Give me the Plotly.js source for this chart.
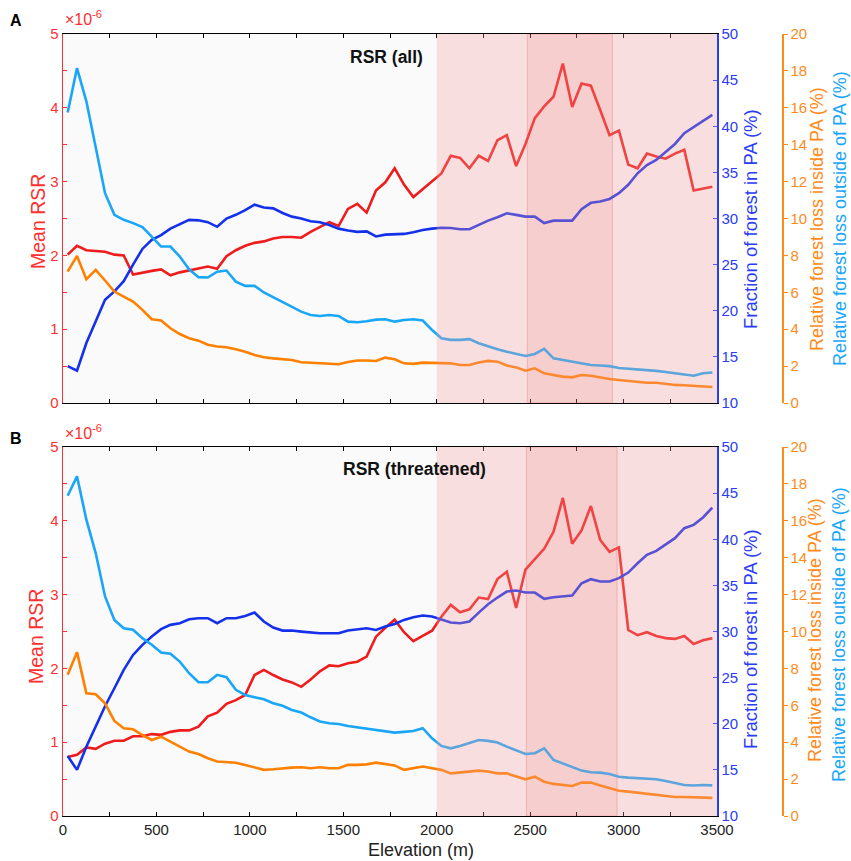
<!DOCTYPE html>
<html>
<head>
<meta charset="utf-8">
<script src="https://cdn.plot.ly/plotly-3.0.1.min.js"></script>
<style>html,body{margin:0;padding:0;background:#fff;}#chart{width:851px;height:861px;}</style>
</head>
<body>
<div id="chart"></div>
<script>
// Elevation bin centres (m)
const elevation = [25,75,125,175,225,275,325,375,425,475,525,575,625,675,725,775,825,875,925,975,
1025,1075,1125,1175,1225,1275,1325,1375,1425,1475,1525,1575,1625,1675,1725,1775,1825,1875,1925,1975,
2025,2075,2125,2175,2225,2275,2325,2375,2425,2475,2525,2575,2625,2675,2725,2775,2825,2875,2925,2975,
3025,3075,3125,3175,3225,3275,3325,3375,3425,3475];

// Panel A: RSR (all)
const rsrAll = [2.01,2.13,2.07,2.06,2.05,2.01,2.00,1.74,1.77,1.79,
1.81,1.73,1.77,1.80,1.82,1.85,1.82,1.99,2.07,2.13,
2.17,2.19,2.23,2.25,2.25,2.24,2.32,2.39,2.45,2.40,
2.63,2.70,2.58,2.88,2.99,3.18,2.96,2.79,2.90,3.00,
3.11,3.35,3.32,3.18,3.35,3.28,3.56,3.63,3.21,3.51,
3.86,4.02,4.15,4.60,4.01,4.33,4.30,3.97,3.63,3.69,
3.23,3.18,3.38,3.34,3.31,3.38,3.43,2.88,2.90,2.93];
const fracPA_A = [14.0,13.5,16.5,18.8,21.2,22.1,23.2,25.0,26.7,27.7,
28.2,28.9,29.4,29.85,29.8,29.6,29.1,30.0,30.4,30.9,
31.5,31.2,31.1,30.6,30.2,30.0,29.7,29.6,29.3,28.9,
28.7,28.55,28.6,28.05,28.25,28.26,28.33,28.5,28.76,28.9,
29.0,28.97,28.83,28.83,29.3,29.77,30.14,30.57,30.39,30.2,
30.2,29.5,29.77,29.77,29.77,31.0,31.7,31.84,32.12,32.74,
33.65,34.9,35.8,36.35,37.25,38.08,39.24,39.89,40.61,41.23];
const lossOut_A = [15.75,18.15,16.35,13.9,11.37,10.2,9.93,9.75,9.53,9.02,
8.48,8.48,7.94,7.25,6.82,6.8,7.12,7.18,6.58,6.35,
6.35,5.99,5.73,5.5,5.23,4.95,4.77,4.72,4.77,4.72,
4.41,4.38,4.43,4.52,4.54,4.41,4.5,4.54,4.47,3.96,
3.51,3.42,3.42,3.46,3.24,3.06,2.91,2.78,2.66,2.55,
2.66,2.93,2.42,2.33,2.24,2.12,2.06,2.03,2.0,1.9,
1.87,1.83,1.79,1.74,1.68,1.61,1.52,1.48,1.61,1.65];
const lossIn_A = [7.12,7.97,6.71,7.22,6.64,6.04,5.77,5.5,5.05,4.54,
4.47,4.05,3.74,3.51,3.38,3.16,3.06,3.02,2.91,2.78,
2.6,2.48,2.42,2.37,2.33,2.21,2.19,2.17,2.13,2.1,
2.22,2.3,2.3,2.28,2.46,2.37,2.15,2.12,2.19,2.19,
2.19,2.15,2.06,2.06,2.19,2.28,2.24,2.03,1.93,1.75,
1.88,1.61,1.52,1.43,1.39,1.52,1.48,1.37,1.3,1.25,
1.19,1.14,1.1,1.1,1.03,0.98,0.96,0.94,0.89,0.87];

// Panel B: RSR (threatened)
const rsrThr = [0.80,0.83,0.93,0.91,0.98,1.02,1.02,1.08,1.08,1.11,
1.10,1.14,1.16,1.16,1.21,1.35,1.40,1.52,1.57,1.64,
1.91,1.98,1.91,1.85,1.81,1.75,1.85,1.96,2.04,2.03,
2.07,2.09,2.16,2.43,2.55,2.66,2.49,2.37,2.44,2.51,
2.70,2.86,2.76,2.80,2.96,2.94,3.21,3.31,2.82,3.34,
3.48,3.62,3.85,4.31,3.69,3.87,4.20,3.74,3.58,3.64,
2.52,2.45,2.49,2.44,2.41,2.40,2.44,2.33,2.38,2.41];
const fracPA_B = [16.5,15.0,17.5,19.7,21.9,23.85,25.84,27.46,28.55,29.45,
30.25,30.72,30.9,31.33,31.44,31.44,30.9,31.44,31.44,31.69,
32.05,31.08,30.43,30.1,30.1,29.99,29.88,29.81,29.81,29.81,
30.1,30.25,30.35,30.17,30.54,30.82,31.26,31.55,31.73,31.62,
31.26,30.97,30.9,31.08,32.05,32.96,33.68,34.33,34.44,34.22,
34.22,33.54,33.72,33.79,33.9,35.23,35.67,35.42,35.42,35.78,
36.39,37.4,38.31,38.74,39.39,40.12,41.2,41.56,42.36,43.44];
const lossOut_B = [17.36,18.41,16.06,14.25,11.9,10.63,10.18,10.09,9.64,9.28,
8.86,8.79,8.37,7.74,7.25,7.25,7.65,7.52,6.84,6.56,
6.44,6.33,6.11,5.97,5.75,5.61,5.35,5.12,5.03,4.99,
4.88,4.81,4.74,4.67,4.58,4.52,4.56,4.61,4.76,4.21,
3.8,3.67,3.8,3.98,4.12,4.07,3.98,3.76,3.58,3.36,
3.4,3.67,3.04,2.86,2.68,2.46,2.37,2.35,2.28,2.13,
2.08,2.04,1.99,1.99,1.9,1.81,1.68,1.65,1.68,1.66];
const lossIn_B = [7.65,8.88,6.65,6.6,6.11,5.15,4.76,4.7,4.39,4.12,
4.3,4.03,3.76,3.49,3.36,3.13,2.95,2.91,2.89,2.77,
2.62,2.5,2.53,2.59,2.62,2.64,2.59,2.64,2.59,2.59,
2.77,2.77,2.8,2.89,2.8,2.74,2.5,2.59,2.68,2.59,
2.5,2.31,2.35,2.41,2.46,2.41,2.31,2.31,2.17,1.99,
2.13,1.86,1.74,1.68,1.63,1.81,1.81,1.65,1.5,1.37,
1.32,1.27,1.19,1.14,1.08,1.03,1.03,1.01,0.98,0.98];

// Shaded elevation bands
const bandLight = [2000, 3500];
const bandDarkA = [2485, 2940];
const bandDarkB = [2480, 2965];

const W = 851, H = 861;
const FONT = 'Liberation Sans, Arial, sans-serif';
const RED = '#ee1c1c', BLUE = '#1530ea', ORANGE = '#ff8000', LBLUE = '#1aa6f7';
const AXRED = '#ff3030', AXBLUE = '#2a3cf8', AXORANGE = '#ff8a1a';
const px = v => v / W, py = v => 1 - v / H;

const xDom = [px(63), px(717)];
const domA = [py(403), py(34)];
const domB = [py(816), py(447)];

function line(x, y, xa, ya, color) {
  return {x: x, y: y, xaxis: xa, yaxis: ya, type: 'scatter', mode: 'lines',
          line: {color: color, width: 2.6}, hoverinfo: 'skip', showlegend: false};
}
const traces = [
  line(elevation, lossOut_A, 'x2', 'y6', LBLUE),
  line(elevation, lossIn_A, 'x2', 'y6', ORANGE),
  line(elevation, fracPA_A, 'x2', 'y5', BLUE),
  line(elevation, rsrAll, 'x2', 'y4', RED),
  line(elevation, lossOut_B, 'x', 'y3', LBLUE),
  line(elevation, lossIn_B, 'x', 'y3', ORANGE),
  line(elevation, fracPA_B, 'x', 'y2', BLUE),
  line(elevation, rsrThr, 'x', 'y', RED)
];

const tf = c => ({family: FONT, size: 15, color: c});
function xax(anchor, labels) {
  return {domain: xDom, anchor: anchor, range: [0, 3500], dtick: 500, tick0: 0,
    ticks: 'inside', ticklen: 4, tickcolor: '#000', showline: true, linecolor: '#000', linewidth: 1,
    mirror: 'ticks', showgrid: false, zeroline: false, showticklabels: labels,
    tickfont: tf('#222'), automargin: false,
    minor: {dtick: 250, ticks: 'inside', ticklen: 4, tickcolor: '#000', showgrid: false}};
}
function yRsr(dom, anchor) {
  return {domain: dom, anchor: anchor, range: [0, 5], dtick: 1, ticks: 'inside', ticklen: 4,
    tickcolor: AXRED, showline: true, linecolor: AXRED, linewidth: 1.5, showgrid: false, zeroline: false,
    tickfont: tf(AXRED), automargin: false,
    minor: {dtick: 0.5, ticks: 'inside', ticklen: 4, tickcolor: AXRED, showgrid: false}};
}
function yFrac(over, anchor) {
  return {overlaying: over, anchor: anchor, side: 'right', range: [10, 50], dtick: 5,
    ticks: 'inside', ticklen: 4, tickcolor: AXBLUE, showline: true, linecolor: AXBLUE, linewidth: 1.5,
    showgrid: false, zeroline: false, tickfont: tf(AXBLUE), automargin: false};
}
function yLoss(over) {
  return {overlaying: over, anchor: 'free', position: px(782), side: 'right', range: [0, 20], dtick: 2,
    ticks: 'outside', ticklen: 4, tickcolor: AXORANGE, showline: true, linecolor: AXORANGE, linewidth: 1.5,
    showgrid: false, zeroline: false, tickfont: tf(AXORANGE), automargin: false};
}

function bandShapes(xa, ya, dark) {
  return [
    {type: 'rect', xref: xa, yref: ya + ' domain', x0: dark[0], x1: dark[1], y0: 0, y1: 1,
     fillcolor: '#f8e2e2', line: {color: 'rgba(235,170,170,0.8)', width: 1}, layer: 'below'},
    {type: 'rect', xref: xa, yref: ya + ' domain', x0: bandLight[0], x1: bandLight[1], y0: 0, y1: 1,
     fillcolor: 'rgba(245,160,160,0.3)', line: {width: 0}, layer: 'above'}
  ];
}

function ann(text, x, y, opts) {
  return Object.assign({text: text, xref: 'paper', yref: 'paper', x: px(x), y: py(y),
    showarrow: false, xanchor: 'center', yanchor: 'middle',
    font: {family: FONT, size: 18, color: '#000'}}, opts || {});
}
const annotations = [
  ann('<b>A</b>', 16, 20, {font: {family: FONT, size: 16, color: '#000'}}),
  ann('<b>B</b>', 16, 438, {font: {family: FONT, size: 16, color: '#000'}}),
  ann('×10<sup>-6</sup>', 63, 18, {xanchor: 'left', font: {family: FONT, size: 16, color: AXRED}}),
  ann('×10<sup>-6</sup>', 63, 432, {xanchor: 'left', font: {family: FONT, size: 16, color: AXRED}}),
  ann('<b>RSR (all)</b>', 386, 57, {font: {family: FONT, size: 17.5, color: '#111'}}),
  ann('<b>RSR (threatened)</b>', 414, 469, {font: {family: FONT, size: 17.5, color: '#111'}}),
  ann('Mean RSR', 38, 222, {textangle: -90, font: {family: FONT, size: 19.5, color: AXRED}}),
  ann('Mean RSR', 36, 637, {textangle: -90, font: {family: FONT, size: 19.5, color: AXRED}}),
  ann('Fraction of forest in PA (%)', 750, 219, {textangle: -90, font: {family: FONT, size: 18.5, color: AXBLUE}}),
  ann('Fraction of forest in PA (%)', 750, 639, {textangle: -90, font: {family: FONT, size: 18.5, color: AXBLUE}}),
  ann('Relative forest loss inside PA (%)', 817, 219, {textangle: -90, font: {family: FONT, size: 18, color: AXORANGE}}),
  ann('Relative forest loss outside of PA (%)', 840, 219, {textangle: -90, font: {family: FONT, size: 18, color: LBLUE}}),
  ann('Relative forest loss inside PA (%)', 815, 630, {textangle: -90, font: {family: FONT, size: 18, color: AXORANGE}}),
  ann('Relative forest loss outside of PA (%)', 839, 635, {textangle: -90, font: {family: FONT, size: 18, color: LBLUE}}),
  ann('Elevation (m)', 421, 850, {font: {family: FONT, size: 18, color: '#222'}})
];

const layout = {
  width: W, height: H, margin: {l: 0, r: 0, t: 0, b: 0},
  paper_bgcolor: '#ffffff', plot_bgcolor: '#fafafa',
  font: {family: FONT, size: 15, color: '#222'},
  showlegend: false,
  xaxis: xax('y', true),
  xaxis2: xax('y4', false),
  yaxis: yRsr(domB, 'x'),
  yaxis2: yFrac('y', 'x'),
  yaxis3: yLoss('y'),
  yaxis4: yRsr(domA, 'x2'),
  yaxis5: yFrac('y4', 'x2'),
  yaxis6: yLoss('y4'),
  shapes: bandShapes('x2', 'y4', bandDarkA).concat(bandShapes('x', 'y', bandDarkB)),
  annotations: annotations
};

Plotly.newPlot('chart', traces, layout, {staticPlot: true, displayModeBar: false});
</script>
</body>
</html>
